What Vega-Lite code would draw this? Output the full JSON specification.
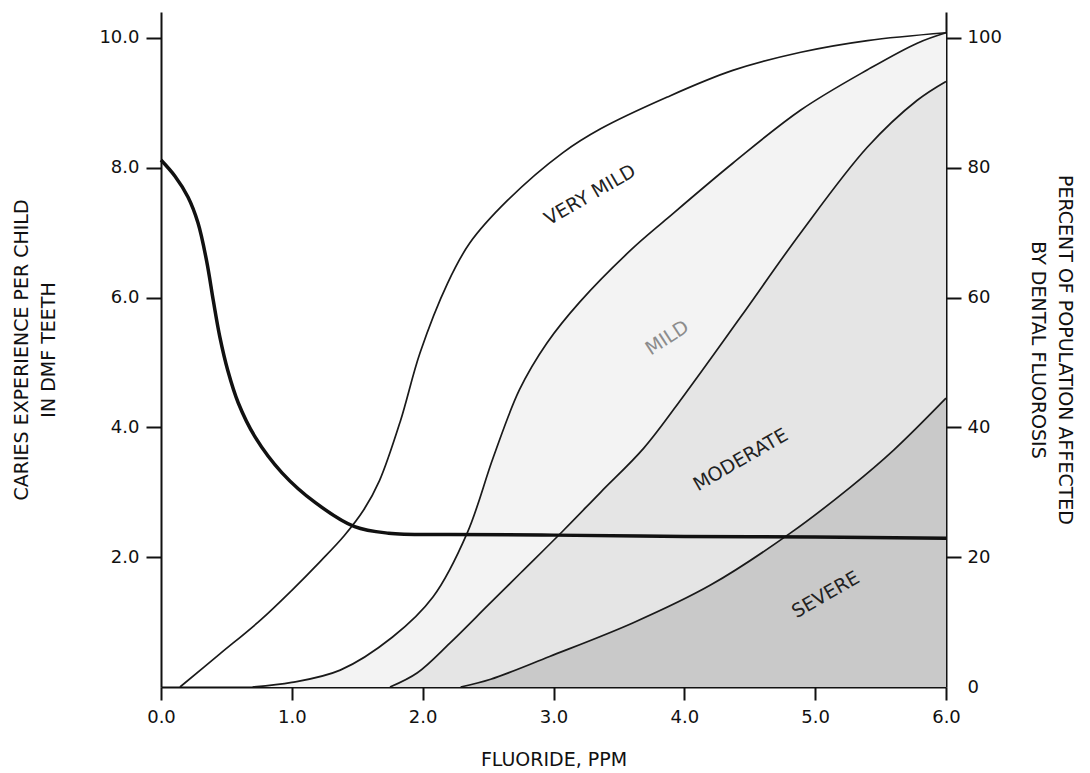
{
  "$schema": "https://vega.github.io/schema/vega-lite/v6.json",
  "width": 785,
  "height": 675,
  "autosize": {"type": "none"},
  "padding": {"left": 161, "top": 12, "right": 144, "bottom": 86},
  "background": "white",
  "config": {
    "view": {"stroke": null},
    "font": "DejaVu Sans",
    "axis": {
      "grid": false,
      "domainColor": "#111111",
      "domainWidth": 2,
      "tickColor": "#111111",
      "tickWidth": 2,
      "labelFont": "DejaVu Sans",
      "labelFontSize": 18,
      "labelColor": "#111111",
      "titleFont": "DejaVu Sans",
      "titleFontSize": 19,
      "titleFontWeight": "normal",
      "titleColor": "#111111",
      "titleLineHeight": 27
    },
    "axisX": {"tickSize": 13, "labelPadding": 8, "titlePadding": 24, "format": ".1f", "tickCount": 6, "labelFlush": false}
  },
  "datasets": {
    "curves": [
      {"curve": "very mild", "x": 0.145, "pct": 0},
      {"curve": "very mild", "x": 0.45, "pct": 5.1},
      {"curve": "very mild", "x": 0.76, "pct": 10.3},
      {"curve": "very mild", "x": 1.0, "pct": 14.9},
      {"curve": "very mild", "x": 1.22, "pct": 19.4},
      {"curve": "very mild", "x": 1.4, "pct": 23.3},
      {"curve": "very mild", "x": 1.55, "pct": 27.3},
      {"curve": "very mild", "x": 1.67, "pct": 31.8},
      {"curve": "very mild", "x": 1.83, "pct": 41.0},
      {"curve": "very mild", "x": 1.98, "pct": 51.5},
      {"curve": "very mild", "x": 2.19, "pct": 62.2},
      {"curve": "very mild", "x": 2.36, "pct": 68.4},
      {"curve": "very mild", "x": 2.65, "pct": 75.0},
      {"curve": "very mild", "x": 3.07, "pct": 82.3},
      {"curve": "very mild", "x": 3.36, "pct": 86.0},
      {"curve": "very mild", "x": 3.87, "pct": 90.9},
      {"curve": "very mild", "x": 4.37, "pct": 95.0},
      {"curve": "very mild", "x": 4.89, "pct": 97.8},
      {"curve": "very mild", "x": 5.4, "pct": 99.6},
      {"curve": "very mild", "x": 6.0, "pct": 100.8},
      {"curve": "mild", "x": 0.7, "pct": 0},
      {"curve": "mild", "x": 1.0, "pct": 0.7},
      {"curve": "mild", "x": 1.37, "pct": 2.6},
      {"curve": "mild", "x": 1.77, "pct": 7.7},
      {"curve": "mild", "x": 2.08, "pct": 13.9},
      {"curve": "mild", "x": 2.34, "pct": 23.7},
      {"curve": "mild", "x": 2.54, "pct": 35.4},
      {"curve": "mild", "x": 2.74, "pct": 45.8},
      {"curve": "mild", "x": 2.95, "pct": 53.0},
      {"curve": "mild", "x": 3.2, "pct": 59.3},
      {"curve": "mild", "x": 3.59, "pct": 67.3},
      {"curve": "mild", "x": 3.87, "pct": 72.2},
      {"curve": "mild", "x": 4.37, "pct": 80.7},
      {"curve": "mild", "x": 4.89, "pct": 88.9},
      {"curve": "mild", "x": 5.4, "pct": 95.1},
      {"curve": "mild", "x": 5.78, "pct": 99.2},
      {"curve": "mild", "x": 6.0, "pct": 100.8},
      {"curve": "moderate", "x": 1.75, "pct": 0},
      {"curve": "moderate", "x": 1.96, "pct": 2.2},
      {"curve": "moderate", "x": 2.21, "pct": 6.8},
      {"curve": "moderate", "x": 2.5, "pct": 12.6},
      {"curve": "moderate", "x": 2.75, "pct": 17.6},
      {"curve": "moderate", "x": 3.07, "pct": 24.0},
      {"curve": "moderate", "x": 3.36, "pct": 30.0},
      {"curve": "moderate", "x": 3.69, "pct": 36.8},
      {"curve": "moderate", "x": 4.0, "pct": 45.0},
      {"curve": "moderate", "x": 4.43, "pct": 57.0},
      {"curve": "moderate", "x": 4.89, "pct": 70.0},
      {"curve": "moderate", "x": 5.4, "pct": 83.2},
      {"curve": "moderate", "x": 5.78, "pct": 90.4},
      {"curve": "moderate", "x": 6.0, "pct": 93.3},
      {"curve": "severe", "x": 2.29, "pct": 0},
      {"curve": "severe", "x": 2.52, "pct": 1.2},
      {"curve": "severe", "x": 2.97, "pct": 4.7},
      {"curve": "severe", "x": 3.61, "pct": 9.9},
      {"curve": "severe", "x": 4.2, "pct": 15.7},
      {"curve": "severe", "x": 4.81, "pct": 23.7},
      {"curve": "severe", "x": 5.27, "pct": 30.8},
      {"curve": "severe", "x": 5.6, "pct": 36.5},
      {"curve": "severe", "x": 6.0, "pct": 44.5}
    ],
    "caries": [
      {"x": 0.0, "dmf": 8.12},
      {"x": 0.107, "dmf": 7.87},
      {"x": 0.206, "dmf": 7.55},
      {"x": 0.283, "dmf": 7.15},
      {"x": 0.35, "dmf": 6.55},
      {"x": 0.4, "dmf": 5.95},
      {"x": 0.45, "dmf": 5.39},
      {"x": 0.51, "dmf": 4.88},
      {"x": 0.59, "dmf": 4.38},
      {"x": 0.72, "dmf": 3.85},
      {"x": 0.925, "dmf": 3.3},
      {"x": 1.18, "dmf": 2.84},
      {"x": 1.48, "dmf": 2.47},
      {"x": 1.74, "dmf": 2.37},
      {"x": 2.2, "dmf": 2.35},
      {"x": 3.0, "dmf": 2.34},
      {"x": 4.0, "dmf": 2.32},
      {"x": 5.0, "dmf": 2.31},
      {"x": 6.0, "dmf": 2.29}
    ],
    "labels": [
      {"label": "VERY MILD", "x": 3.28, "pct": 75.8},
      {"label": "MILD", "x": 3.87, "pct": 53.8},
      {"label": "MODERATE", "x": 4.43, "pct": 35.0},
      {"label": "SEVERE", "x": 5.08, "pct": 14.2}
    ]
  },
  "layer": [
    {
      "data": {"name": "curves"},
      "transform": [{"filter": "datum.curve == 'mild'"}],
      "mark": {"type": "area", "interpolate": "catmull-rom", "color": "#f3f3f3"},
      "encoding": {
        "x": {"field": "x", "type": "quantitative", "title": "FLUORIDE, PPM", "scale": {"domain": [0, 6], "nice": false}},
        "y": {"field": "pct", "type": "quantitative", "scale": {"domain": [0, 104], "nice": false}, "axis": null}
      }
    },
    {
      "data": {"name": "curves"},
      "transform": [{"filter": "datum.curve == 'moderate'"}],
      "mark": {"type": "area", "interpolate": "catmull-rom", "color": "#e5e5e5"},
      "encoding": {
        "x": {"field": "x", "type": "quantitative", "title": "FLUORIDE, PPM"},
        "y": {"field": "pct", "type": "quantitative", "scale": {"domain": [0, 104], "nice": false}, "axis": null}
      }
    },
    {
      "data": {"name": "curves"},
      "transform": [{"filter": "datum.curve == 'severe'"}],
      "mark": {"type": "area", "interpolate": "catmull-rom", "color": "#c9c9c9"},
      "encoding": {
        "x": {"field": "x", "type": "quantitative", "title": "FLUORIDE, PPM"},
        "y": {"field": "pct", "type": "quantitative", "scale": {"domain": [0, 104], "nice": false}, "axis": null}
      }
    },
    {
      "data": {"name": "curves"},
      "mark": {"type": "line", "interpolate": "catmull-rom", "color": "#1a1a1a", "strokeWidth": 1.7},
      "encoding": {
        "x": {"field": "x", "type": "quantitative", "title": "FLUORIDE, PPM"},
        "y": {"field": "pct", "type": "quantitative", "scale": {"domain": [0, 104], "nice": false},
          "axis": {"orient": "right", "values": [0, 20, 40, 60, 80, 100], "format": "d", "tickSize": 15, "labelPadding": 6,
            "tickOpacity": {"condition": {"test": "datum.value == 0", "value": 0}, "value": 1},
            "title": ["PERCENT OF POPULATION AFFECTED", "BY DENTAL FLUOROSIS"], "titlePadding": 26}},
        "detail": {"field": "curve", "type": "nominal"}
      }
    },
    {
      "data": {"name": "labels"},
      "transform": [{"filter": "datum.label != 'MILD'"}],
      "mark": {"type": "text", "angle": -30, "font": "DejaVu Sans", "fontSize": 19, "color": "#222222", "align": "center", "baseline": "middle"},
      "encoding": {
        "x": {"field": "x", "type": "quantitative", "title": "FLUORIDE, PPM"},
        "y": {"field": "pct", "type": "quantitative", "scale": {"domain": [0, 104], "nice": false}, "axis": null},
        "text": {"field": "label", "type": "nominal"}
      }
    },
    {
      "data": {"name": "labels"},
      "transform": [{"filter": "datum.label == 'MILD'"}],
      "mark": {"type": "text", "angle": -33, "font": "DejaVu Sans", "fontSize": 19, "color": "#8c8c8c", "align": "center", "baseline": "middle"},
      "encoding": {
        "x": {"field": "x", "type": "quantitative", "title": "FLUORIDE, PPM"},
        "y": {"field": "pct", "type": "quantitative", "scale": {"domain": [0, 104], "nice": false}, "axis": null},
        "text": {"field": "label", "type": "nominal"}
      }
    },
    {
      "data": {"name": "caries"},
      "mark": {"type": "line", "interpolate": "catmull-rom", "color": "#111111", "strokeWidth": 3.5},
      "encoding": {
        "x": {"field": "x", "type": "quantitative", "title": "FLUORIDE, PPM"},
        "y": {"field": "dmf", "type": "quantitative", "scale": {"domain": [0, 10.4], "nice": false},
          "axis": {"orient": "left", "values": [2, 4, 6, 8, 10], "format": ".1f", "tickSize": 15, "labelPadding": 7,
            "title": ["CARIES EXPERIENCE PER CHILD", "IN DMF TEETH"], "titlePadding": 40}}
      }
    }
  ],
  "resolve": {"scale": {"y": "independent"}}
}
